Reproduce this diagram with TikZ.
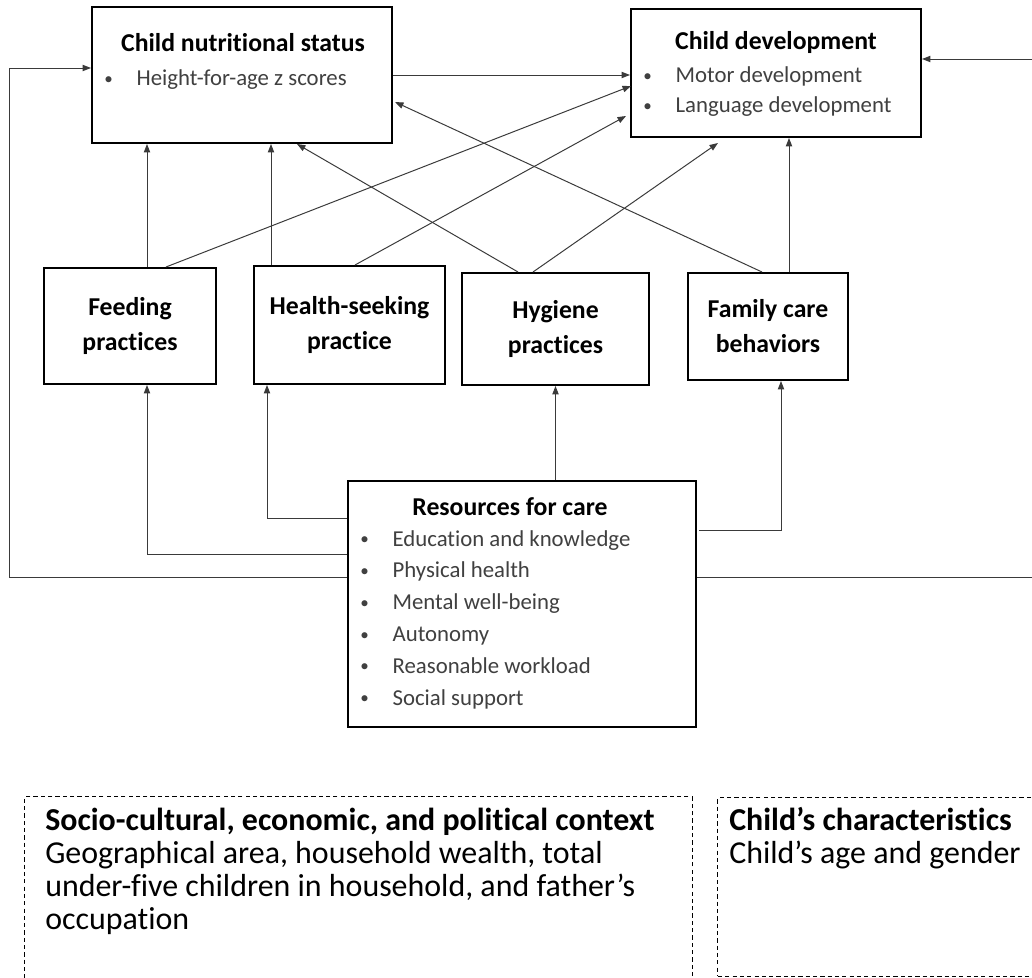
\documentclass[tikz,border=0pt]{standalone}
\usepackage{fontspec}
\setmainfont{Carlito}[Ligatures=NoCommon]
\usepackage{graphicx}
\usepackage{tikz}
\newcommand{\puce}{\makebox[23pt][l]{\raisebox{0.06em}{\scalebox{0.75}{\textbullet}}}}
\usetikzlibrary{arrows.meta,calc}
\definecolor{ligne}{HTML}{3A3A3A}
\definecolor{gris}{HTML}{404040}
\tikzset{box/.style={
    draw=black,
    line width=1.4pt,
    inner sep=0pt}}
\tikzset{ctxbox/.style={
    draw=black,
    dash pattern=on 3pt off 2.2pt,
    line width=0.7pt}}
\tikzset{head/.style={
    font=\fontsize{18.3}{22}\selectfont\bfseries}}
\tikzset{item/.style={
    font=\fontsize{16.2}{22.6}\selectfont,
    text=gris,
    align=left,
    anchor=west,
    inner sep=0pt}}
\tikzset{mid/.style={
    font=\fontsize{18.3}{24.9}\selectfont\bfseries,
    align=center}}
\tikzset{ctx/.style={
    font=\fontsize{22.7}{23.5}\selectfont,
    align=left,
    anchor=west,
    inner sep=0pt}}
\tikzset{link/.style={
    ligne,
    line width=0.7pt,
    -{Triangle[length=6pt,width=4.5pt]}}}

\begin{document}
\begin{tikzpicture}[x=0.025cm, y=-0.025cm]

\useasboundingbox[fill=white] (0,0) rectangle (1032,978);

\coordinate (N) at (242,75);
\coordinate (D) at (776,73);
\coordinate (F) at (130,326);
\coordinate (H) at (349.5,325);
\coordinate (Y) at (555.5,329);
\coordinate (C) at (768,326.5);
\coordinate (R) at (522,604);

\node[box,
  minimum width=7.5cm,
  minimum height=3.4cm] (nut) at (N) {};
\node[head] (nutT) at (243,43) {Child nutritional status};
\node[item] (nutL) at (104,80) {\puce Height-for-age z scores};

\node[box,
  minimum width=7.25cm,
  minimum height=3.2cm] (dev) at (D) {};
\node[head] (devT) at (776,42) {Child development};
\node[item,
  font=\fontsize{16.2}{21.3}\selectfont] (devL) at (643,92) {\puce Motor development\\\puce Language development};

\node[box, mid,
  minimum width=4.3cm,
  minimum height=2.9cm] (feed) at (F) {Feeding\\practices};

\node[box, mid,
  minimum width=4.775cm,
  minimum height=2.95cm] (health) at (H) {Health-seeking\\practice};

\node[box, mid,
  minimum width=4.675cm,
  minimum height=2.8cm] (hyg) at (Y) {Hygiene\\practices};

\node[box, mid,
  minimum width=4cm,
  minimum height=2.675cm] (fam) at (C) {Family care\\behaviors};

\node[box,
  minimum width=8.7cm,
  minimum height=6.15cm] (res) at (R) {};
\node[head] (resT) at (510,507) {Resources for care};
\node[item] (resL) at (360,619.5) {\puce Education and knowledge\\\puce Physical health\\\puce Mental well-being\\\puce Autonomy\\\puce Reasonable workload\\\puce Social support};

\node[ctxbox,
  minimum width=16.675cm,
  minimum height=4.8cm] (socbox) at (358.5,893) {};
\node[ctx] (soc) at (45,871) {\textbf{Socio-cultural, economic, and political context}\\Geographical area, household wealth, total\\under-five children in household, and father’s\\occupation};

\node[ctxbox,
  minimum width=8.175cm,
  minimum height=4.45cm] (kidbox) at (881.5,887) {};
\node[ctx] (kid) at (729,838) {\textbf{Child’s characteristics}\\Child’s age and gender};

\coordinate (lft) at (9,68);
\coordinate (rgt) at (1040,59);

\draw[link] (nut.east) -- (nut.east -| dev.west);
\draw[link] ($(feed.north)+(17,0)$) coordinate (f1) -- (f1 |- nut.south);
\draw[link] ($(health.north)+(-78.5,0)$) coordinate (h1) -- (h1 |- nut.south);
\draw[link] ($(hyg.north)+(-37.5,0)$) -- ($(nut.south)+(55,0)$);
\draw[link] ($(fam.north)+(-6,0)$) -- ($(nut.east)+(2,27)$);
\draw[link] ($(feed.north)+(36,0)$) -- ($(dev.west)+(1,13)$);
\draw[link] ($(health.north)+(5.5,0)$) -- ($(dev.west)+(-4,43)$);
\draw[link] ($(hyg.north)+(-22.5,0)$) -- ($(dev.south)+(-58,5)$);
\draw[link] ($(fam.north)+(21,0)$) coordinate (c1) -- (c1 |- dev.south);

\draw[link] (res.north -| hyg.south) -- (hyg.south);
\draw[link] ($(res.west)+(0,-86)$) -| ($(health.south)+(-82.5,0)$);
\draw[link] ($(res.west)+(0,-50)$) -| ($(feed.south)+(17,0)$);
\draw[link] ($(res.west)+(0,-27)$) -| (lft) -- (lft -| nut.west);
\draw[link] ($(res.east)+(2,-74)$) -| ($(fam.south)+(13,0)$);
\draw[link] ($(res.east)+(0,-27)$) -| (rgt) -- (rgt -| dev.east);

\end{tikzpicture}
\end{document}
